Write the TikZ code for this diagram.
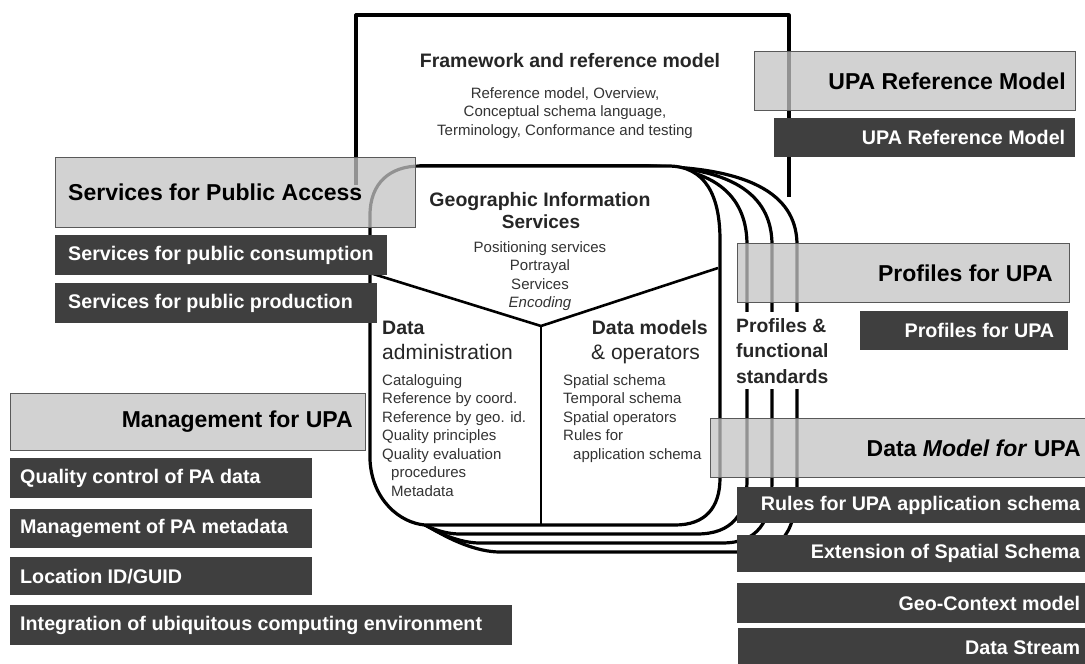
\documentclass[tikz,border=0pt]{standalone}
\usepackage{fontspec}
\setmainfont{Liberation Sans}
\definecolor{darkbox}{HTML}{3F3F3F}
\definecolor{lightbox}{HTML}{C4C4C4}
\definecolor{txtgray}{HTML}{333333}
\tikzset{
  heavy/.style={line width=3.2pt, line join=round},
  lbox/.style={draw=black!65, line width=0.9pt, fill=lightbox, fill opacity=0.75, text opacity=1, inner sep=0pt, anchor=north west},
  dbox/.style={fill=darkbox, inner sep=0pt, anchor=north west},
  ltxt/.style={font=\fontsize{23}{26}\selectfont\bfseries, inner sep=0pt, text=black},
  dtxt/.style={font=\fontsize{19.7}{22}\selectfont\bfseries, inner sep=0pt, text=white},
  listtxt/.style={font=\fontsize{15}{18}\selectfont, text=txtgray, anchor=base west, inner sep=0pt},
}
\begin{document}
\begin{tikzpicture}[x=1pt, y=-1pt]
\useasboundingbox (0,0) rectangle (1085,664);
\fill[white] (0,0) rectangle (1085,664);

% framework frame
\draw[heavy] (356,185) -- (356,15) -- (789,15) -- (789,197);
\node[font=\fontsize{19.5}{22}\selectfont\bfseries, text=black!85] (fwT) at (570,61) {Framework and reference model};
\node[font=\fontsize{15}{18.5}\selectfont, text=txtgray, align=center] (fwS) at (565,113) {Reference model, Overview,\\Conceptual schema language,\\Terminology, Conformance and testing};

% stacked copies
\foreach \i in {3,2,1} {
  \pgfmathsetmacro\X{722+25*\i}
  \pgfmathsetmacro\Y{525+9*\i}
  \draw[heavy, fill=white] (640,166) .. controls ({700+20*\i},166) and (\X,200) .. (\X,245)
     -- (\X,480) .. controls (\X,{505+9*\i}) and ({\X-15},\Y) .. ({\X-50},\Y)
     -- ({440+20*\i},\Y) .. controls ({410+15*\i},\Y) and (390,505) .. (380,480)
     -- (420,166) -- cycle;
}
% main box
\draw[heavy, fill=white] (370,215) .. controls (370,183) and (390,166) .. (420,166)
   -- (668,166) .. controls (705,166) and (720,195) .. (720,240)
   -- (720,478) .. controls (720,508) and (705,525) .. (675,525)
   -- (425,525) .. controls (400,523) and (372,500) .. (370,460) -- cycle;
\coordinate (vl) at (370,273);
\coordinate (vm) at (541,326);
\coordinate (vr) at (718,268);
\coordinate (vb) at (541,525);
\draw[line width=2.6pt, line join=round] (vl) -- (vm) -- (vr);
\draw[line width=2.6pt] (vm) -- (vb);

\node[font=\fontsize{19.5}{22}\selectfont\bfseries, text=black!85] (giT) at (540,201) {Geographic Information};
\node[font=\fontsize{19}{22}\selectfont\bfseries, text=black!85] (giS) at (541,222) {Services};
\node[font=\fontsize{15}{18.5}\selectfont, text=txtgray, align=center] (giL) at (540,276) {Positioning services\\Portrayal\\Services\\\textit{Encoding}};

\node[font=\fontsize{19.5}{22}\selectfont\bfseries, text=black!85, anchor=base west, inner sep=0pt] (daT) at (382,334) {Data};
\node[font=\fontsize{21}{24}\selectfont, text=black!85, anchor=base west, inner sep=0pt] (daS) at (382,359) {administration};
\node[font=\fontsize{19.5}{22}\selectfont\bfseries, text=black!85, anchor=base east, inner sep=0pt] (dmT) at (708,334) {Data models};
\node[font=\fontsize{21}{24}\selectfont, text=black!85, anchor=base east, inner sep=0pt] (dmS) at (700,359) {\&\ operators};

\node[listtxt] (l1) at (382,385) {Cataloguing};
\node[listtxt] (l2) at (382,403.5) {Reference by coord.};
\node[listtxt] (l3) at (382,422) {Reference by geo. id.};
\node[listtxt] (l4) at (382,440.5) {Quality principles};
\node[listtxt] (l5) at (382,459) {Quality evaluation};
\node[listtxt] (l6) at (391,477.5) {procedures};
\node[listtxt] (l7) at (391,496) {Metadata};

\node[listtxt] (r1) at (563,385) {Spatial schema};
\node[listtxt] (r2) at (563,403.5) {Temporal schema};
\node[listtxt] (r3) at (563,422) {Spatial operators};
\node[listtxt] (r4) at (563,440.5) {Rules for};
\node[listtxt] (r5) at (573,459) {application schema};

\node[fill=white, anchor=north west, inner xsep=3pt, inner ysep=6pt, align=left, font=\fontsize{19.3}{25.5}\selectfont\bfseries, text=black!85] (pfs) at (733,312) {Profiles \&\\functional\\standards};

% light boxes
\node[lbox, minimum width=321pt, minimum height=59pt] (upaL) at (754,51) {};
\node[ltxt, anchor=east] (upaLt) at ([xshift=-10pt]upaL.east) {UPA Reference Model};
\node[lbox, minimum width=360pt, minimum height=70pt] (spaL) at (55,157) {};
\node[ltxt, anchor=west] (spaLt) at ([xshift=13pt]spaL.west) {Services for Public Access};
\node[lbox, minimum width=332pt, minimum height=59pt] (prL) at (737,243) {};
\node[ltxt, anchor=east] (prLt) at ([xshift=-17pt]prL.east) {Profiles for UPA};
\node[lbox, minimum width=355pt, minimum height=57pt] (mgL) at (10,393) {};
\node[ltxt, anchor=east] (mgLt) at ([xshift=-13pt]mgL.east) {Management for UPA};
\node[lbox, minimum width=380pt, minimum height=59pt] (dmL) at (710,418) {};
\node[ltxt, anchor=east] (dmLt) at ([xshift=-10pt]dmL.east) {Data \textit{Model for} UPA};

% dark boxes
\node[dbox, minimum width=301pt, minimum height=39pt] (upaD) at (774,118) {};
\node[dtxt, anchor=east] (upaDt) at ([xshift=-10pt]upaD.east) {UPA Reference Model};
\node[dbox, minimum width=332pt, minimum height=40pt] (coD) at (55,235) {};
\node[dtxt, anchor=west] (coDt) at ([xshift=13pt]coD.west) {Services for public consumption};
\node[dbox, minimum width=322pt, minimum height=40pt] (poD) at (55,283) {};
\node[dtxt, anchor=west] (poDt) at ([xshift=13pt]poD.west) {Services for public production};
\node[dbox, minimum width=208pt, minimum height=39pt] (prD) at (860,311) {};
\node[dtxt, anchor=east] (prDt) at ([xshift=-14pt]prD.east) {Profiles for UPA};
\node[dbox, minimum width=302pt, minimum height=40pt] (qcD) at (10,458) {};
\node[dtxt, anchor=west] (qcDt) at ([xshift=10pt]qcD.west) {Quality control of PA data};
\node[dbox, minimum width=302pt, minimum height=39pt] (mmD) at (10,509) {};
\node[dtxt, anchor=west] (mmDt) at ([xshift=10pt]mmD.west) {Management of PA metadata};
\node[dbox, minimum width=302pt, minimum height=38pt] (loD) at (10,557) {};
\node[dtxt, anchor=west] (loDt) at ([xshift=10pt]loD.west) {Location ID/GUID};
\node[dbox, minimum width=502pt, minimum height=40pt] (inD) at (10,605) {};
\node[dtxt, anchor=west] (inDt) at ([xshift=10pt]inD.west) {Integration of ubiquitous computing environment};
\node[dbox, minimum width=353pt, minimum height=36pt] (ruD) at (737,487) {};
\node[dtxt, anchor=east] (ruDt) at ([xshift=-10pt]ruD.east) {Rules for UPA application schema};
\node[dbox, minimum width=353pt, minimum height=37pt] (exD) at (737,535) {};
\node[dtxt, anchor=east] (exDt) at ([xshift=-10pt]exD.east) {Extension of Spatial Schema};
\node[dbox, minimum width=353pt, minimum height=40pt] (geD) at (737,583) {};
\node[dtxt, anchor=east] (geDt) at ([xshift=-10pt]geD.east) {Geo-Context model};
\node[dbox, minimum width=352pt, minimum height=40pt] (dsD) at (738,628) {};
\node[dtxt, anchor=east] (dsDt) at ([xshift=-10pt]dsD.east) {Data Stream};
\end{tikzpicture}
\end{document}
